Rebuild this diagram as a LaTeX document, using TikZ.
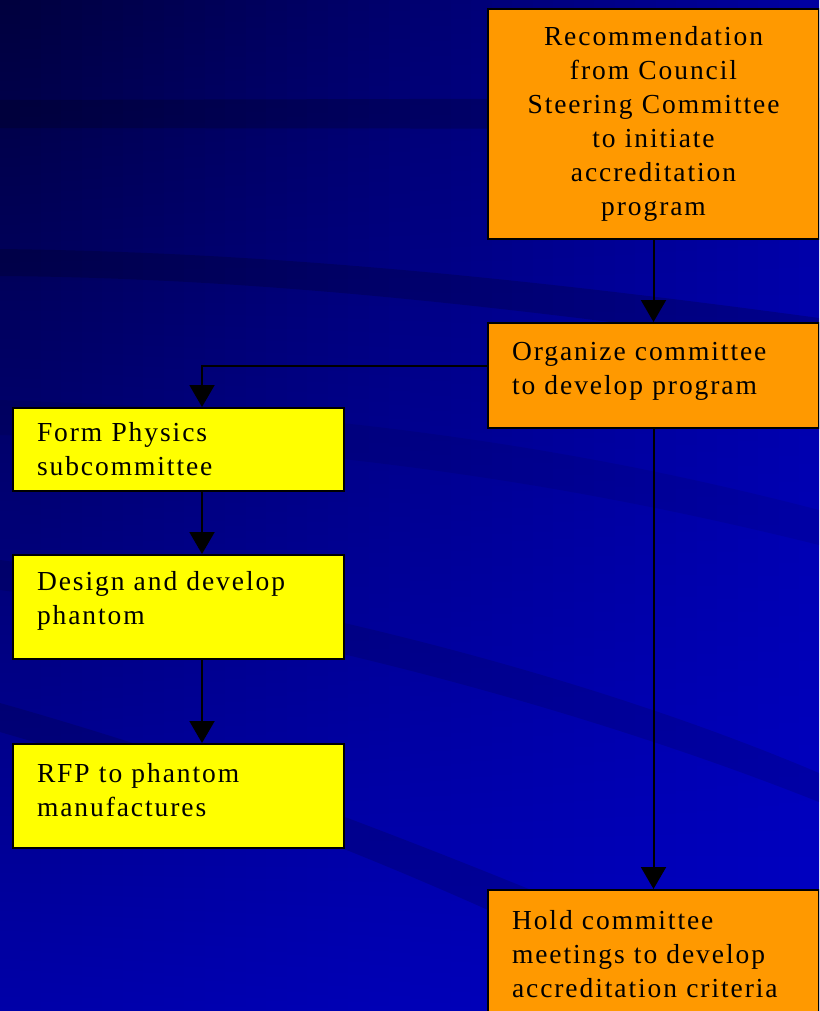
\documentclass[tikz,border=0pt]{standalone}
\usepackage{fontspec}
\setmainfont{Liberation Serif}[LetterSpace=7]
\usetikzlibrary{arrows.meta}
\definecolor{boxorange}{RGB}{255,153,0}
\definecolor{boxyellow}{RGB}{255,255,0}
\definecolor{bgtl}{RGB}{0,0,62}
\definecolor{bgml}{RGB}{0,0,92}
\definecolor{bgbl}{RGB}{0,0,168}
\definecolor{bgtr}{RGB}{0,0,160}
\definecolor{bgmr}{RGB}{0,0,176}
\definecolor{bgbr}{RGB}{0,0,196}
\tikzset{
  stepnode/.style={draw=black, line width=2pt, anchor=north west, minimum width=331pt,
    text width=283pt, inner xsep=24pt, inner ysep=0pt, align=left,
    font=\fontsize{27.5}{34}\selectfont},
  orangenode/.style={stepnode, fill=boxorange},
  yellownode/.style={stepnode, fill=boxyellow},
  flowline/.style={line width=2pt, -{Triangle[length=22pt,width=25pt]}},
  band/.style={fill=black, fill opacity=0.18}
}

\begin{document}
\begin{tikzpicture}[x=1pt,y=-1pt]
  \useasboundingbox (0,0) rectangle (819,1011);
  \clip (0,0) rectangle (819,1011);
  \foreach \i in {0,...,39} {
    \pgfmathsetmacro\p{100-\i*100/39}
    \shade[top color=bgtl!\p!bgtr, middle color=bgml!\p!bgmr, bottom color=bgbl!\p!bgbr]
      (\i*20.5,0) rectangle (\i*20.5+21.5,1011);
  }
  \fill[band] (0,100) -- (819,98) -- (819,129) -- (0,128) -- cycle;
  \fill[band] (0,249) .. controls (240,252) and (480,272) .. (819,318)
    -- (819,350) .. controls (480,302) and (240,278) .. (0,276) -- cycle;
  \fill[band, fill opacity=0.08] (0,400) .. controls (300,410) and (550,440) .. (819,510)
    -- (819,545) .. controls (550,478) and (300,445) .. (0,435) -- cycle;
  \fill[band, fill opacity=0.12] (0,560) .. controls (300,600) and (600,680) .. (819,773)
    -- (819,802) .. controls (600,715) and (300,630) .. (0,590) -- cycle;
  \fill[band, fill opacity=0.15] (0,703) .. controls (200,760) and (400,830) .. (819,1011)
    -- (700,1011) .. controls (400,860) and (200,790) .. (0,732) -- cycle;

  \node[orangenode, align=center, minimum height=230pt] (recommend) at (487,8)
    {Recommendation\\from Council\\Steering Committee\\to initiate\\accreditation\\program};
  \node[orangenode, minimum height=105pt] (organize) at (487,322)
    {Organize committee\\to develop program\vphantom{g}\vspace{8pt}};
  \node[yellownode, minimum height=83pt] (physics) at (12,407)
    {Form Physics\\subcommittee};
  \node[yellownode, minimum height=104pt] (phantom) at (12,554)
    {Design and develop\\phantom\vspace{12pt}};
  \node[yellownode, minimum height=104pt] (rfp) at (12,743)
    {RFP to phantom\\manufactures\vspace{12pt}};
  \node[orangenode, minimum height=128pt] (meetings) at (487,889)
    {Hold committee\\meetings to develop\\accreditation criteria};

  \draw[flowline] (recommend) -- (organize);
  \draw[flowline] ([yshift=10pt]organize.west) -| ([xshift=23.5pt]physics.north);
  \draw[flowline] ([xshift=23.5pt]physics.south) -- ([xshift=23.5pt]phantom.north);
  \draw[flowline] ([xshift=23.5pt]phantom.south) -- ([xshift=23.5pt]rfp.north);
  \draw[flowline] (organize) -- (meetings);
\end{tikzpicture}
\end{document}
